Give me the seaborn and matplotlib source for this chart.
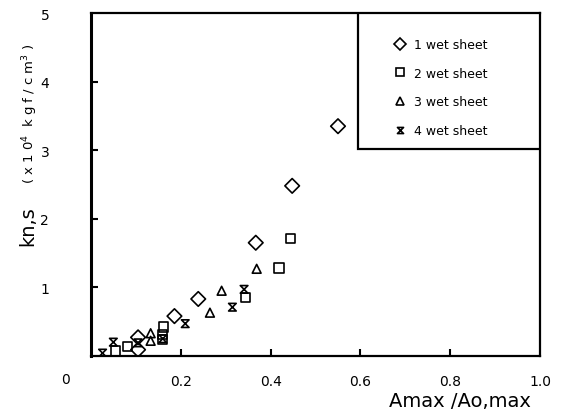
import numpy as np
import pandas as pd
import matplotlib
matplotlib.use("Agg")
import matplotlib.pyplot as plt
import seaborn as sns
from matplotlib.path import Path
from matplotlib.patches import Rectangle
from matplotlib.lines import Line2D

# ── Data ───────────────────────────────────────────────────────────────────
x_one = [0.105, 0.105, 0.186, 0.239, 0.367, 0.448, 0.550]
y_one = [0.09, 0.27, 0.58, 0.83, 1.65, 2.48, 3.35]

x_two = [0.055, 0.081, 0.160, 0.160, 0.162, 0.344, 0.419, 0.445]
y_two = [0.07, 0.14, 0.31, 0.24, 0.42, 0.85, 1.28, 1.71]

x_three = [0.133, 0.133, 0.265, 0.291, 0.369]
y_three = [0.22, 0.33, 0.63, 0.95, 1.27]

x_four = [0.026, 0.050, 0.105, 0.160, 0.210, 0.315, 0.341]
y_four = [0.04, 0.20, 0.19, 0.25, 0.47, 0.71, 0.97]

labels = ["1 wet sheet", "2 wet sheet", "3 wet sheet", "4 wet sheet"]
x_ticks = [0.2, 0.4, 0.6, 0.8, 1.0]
y_ticks = [1, 2, 3, 4, 5]

# hourglass marker: two triangles tip to tip
hourglass = Path([(-1, 1), (1, 1), (-1, -1), (1, -1), (-1, 1)],
                 [Path.MOVETO, Path.LINETO, Path.LINETO, Path.LINETO, Path.CLOSEPOLY])

series = [
    (x_one, y_one, "D", 55),
    (x_two, y_two, "s", 45),
    (x_three, y_three, "^", 40),
    (x_four, y_four, hourglass, 30),
]

# ── Style ──────────────────────────────────────────────────────────────────
sns.set_style("ticks")
plt.rcParams["font.family"] = ["DejaVu Sans"]
plt.rcParams["text.color"] = "black"
plt.rcParams["xtick.color"] = "black"
plt.rcParams["ytick.color"] = "black"

fig = plt.figure(figsize=(5.68, 4.14), dpi=100)
ax = fig.add_axes([0.160, 0.138, 0.791, 0.828])

for (xs, ys, mk, sz), lab in zip(series, labels):
    sns.scatterplot(x=xs, y=ys, marker=mk, s=sz, facecolor="none",
                    edgecolor="black", linewidth=1.2, ax=ax, label=lab, legend=False)

ax.set_xlim(0, 1.0)
ax.set_ylim(0, 5)
ax.set_xticks(x_ticks)
ax.set_xticklabels(["0.2", "0.4", "0.6", "0.8", "1.0"])
ax.set_yticks(y_ticks)
ax.set_yticklabels([str(v) for v in y_ticks])
ax.tick_params(axis="x", direction="in", length=5, width=1.5, pad=13, labelsize=10)
ax.tick_params(axis="y", direction="in", length=5, width=1.5, pad=30, labelsize=10)
ax.yaxis.get_major_ticks()[-1].tick1line.set_visible(False)
ax.xaxis.get_major_ticks()[-1].tick1line.set_visible(False)

for side in ["left", "bottom", "top", "right"]:
    ax.spines[side].set_linewidth(1.6)
    ax.spines[side].set_color("black")
ax.spines["left"].set_linewidth(2.2)

# origin label
ax.text(-0.056, -0.067, "0", transform=ax.transAxes, ha="center", va="center", fontsize=10)

# axis labels
ax.text(0.822, -0.13, "Amax /Ao,max", transform=ax.transAxes, ha="center",
        va="center", fontsize=14)
fig.text(0.048, 0.455, "kn,s", rotation=90, ha="center", va="center", fontsize=14)
fig.text(0.053, 0.725, "( x 1 0$^4$  k g f / c m$^3$ )", rotation=90, ha="center",
         va="center", fontsize=9.5)

# legend box anchored to the upper right corner
ax.add_patch(Rectangle((0.595, 0.603), 0.405, 0.397, transform=ax.transAxes,
                       facecolor="white", edgecolor="black", linewidth=1.6, zorder=3))
handles = [Line2D([], [], marker=mk, linestyle="none", markerfacecolor="none",
                  markeredgecolor="black", markeredgewidth=1.2,
                  markersize=np.sqrt(sz) * 0.8)
           for (_, _, mk, sz) in series]
leg = ax.legend(handles, labels, loc="upper left", bbox_to_anchor=(0.66, 0.945),
                frameon=False, fontsize=9, handlelength=1.0, handletextpad=0.6,
                labelspacing=1.25, borderpad=0)
leg.set_zorder(4)

plt.savefig("out.png", dpi=100)
